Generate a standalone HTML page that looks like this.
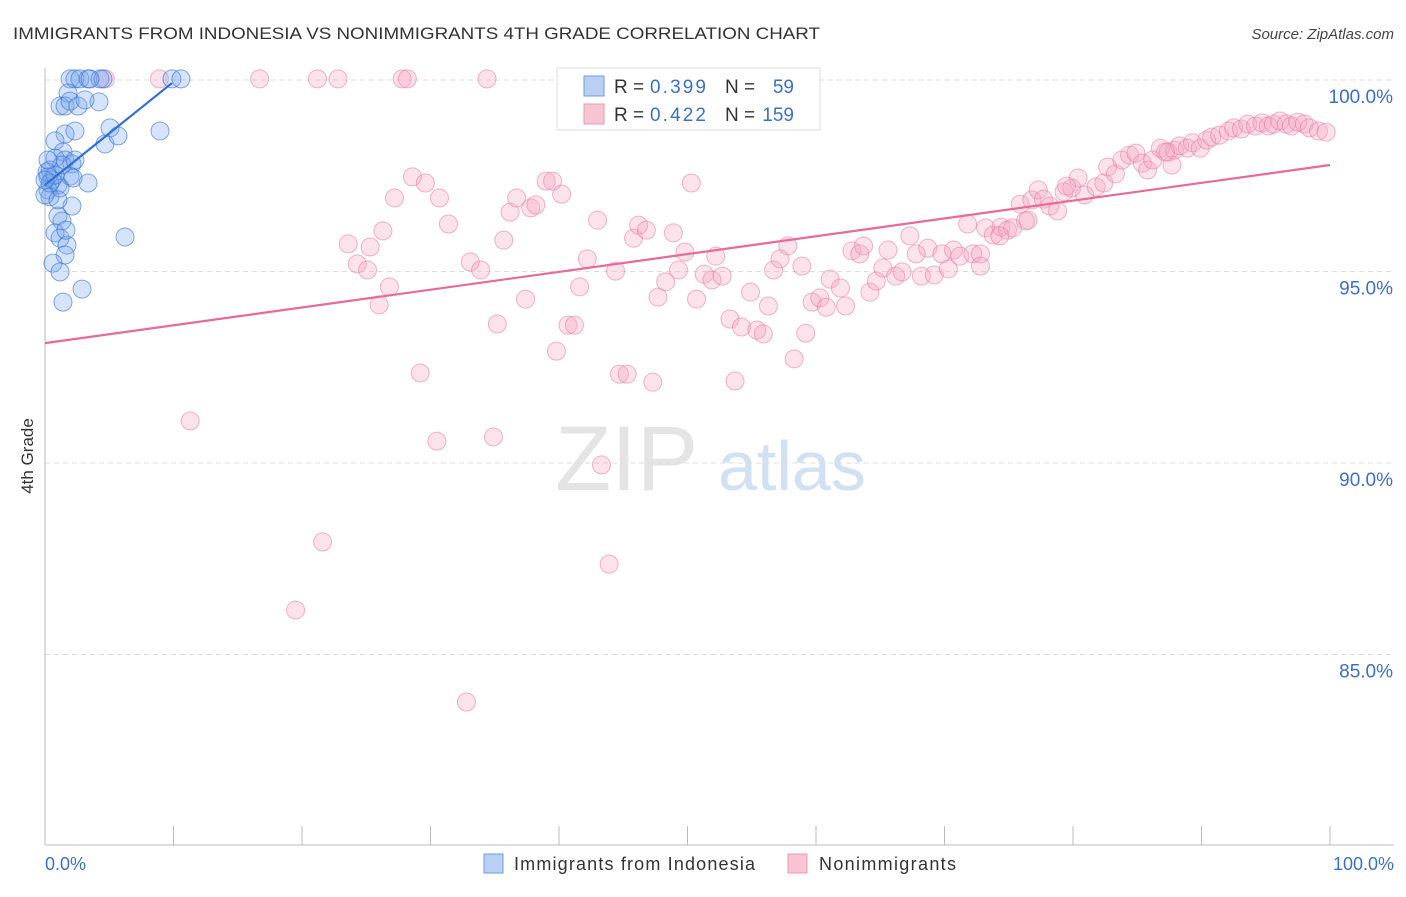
<!DOCTYPE html>
<html><head><meta charset="utf-8"><style>
body{margin:0;background:#fff;font-family:"Liberation Sans",sans-serif}
svg text{font-family:"Liberation Sans",sans-serif}
</style></head><body>
<svg id="chart" width="1406" height="892" xmlns="http://www.w3.org/2000/svg">
<text x="13" y="39" font-size="17" fill="#333" textLength="807" lengthAdjust="spacingAndGlyphs">IMMIGRANTS FROM INDONESIA VS NONIMMIGRANTS 4TH GRADE CORRELATION CHART</text>
<text x="1394" y="39" font-size="15" fill="#444" text-anchor="end" font-style="italic">Source: ZipAtlas.com</text>
<text x="555" y="490" font-size="92" fill="#e4e4e4" font-family="Liberation Serif">ZIP</text>
<text x="718" y="490" font-size="70" fill="#d2e0f4">atlas</text>
<g id="grid"></g>
<line x1="45" y1="68" x2="45" y2="845" stroke="#bbb"/>
<line x1="45" y1="845" x2="1394" y2="845" stroke="#bbb"/>
<g id="xticks"></g>
<text transform="translate(33,456) rotate(-90)" font-size="17" fill="#333" text-anchor="middle">4th Grade</text>
<text x="45" y="870" font-size="18" fill="#3a6fd0">0.0%</text>
<text x="1394" y="870" font-size="18" fill="#3a6fd0" text-anchor="end">100.0%</text>
<g id="pink"></g><g id="blue"></g><g id="trends"></g>
<g>
<rect x="557" y="68" width="263" height="62" fill="#fff" stroke="#ddd"/>
<rect x="584" y="76" width="20" height="20" fill="#b8d0f4" stroke="#6d9be0"/>
<rect x="584" y="104" width="20" height="20" fill="#f8c4d4" stroke="#ec98b4"/>
<text x="614" y="93" font-size="19" fill="#333">R =</text>
<text x="650" y="93" font-size="19" fill="#3a6fd0" textLength="56">0.399</text>
<text x="725" y="93" font-size="19" fill="#333">N =</text>
<text x="794" y="93" font-size="19" fill="#3a6fd0" text-anchor="end">59</text>
<text x="614" y="121" font-size="19" fill="#333">R =</text>
<text x="650" y="121" font-size="19" fill="#3a6fd0" textLength="56">0.422</text>
<text x="725" y="121" font-size="19" fill="#333">N =</text>
<text x="794" y="121" font-size="19" fill="#3a6fd0" text-anchor="end">159</text>
</g>
<g>
<rect x="484" y="854" width="19" height="19" fill="#b8d0f4" stroke="#6d9be0"/>
<text x="514" y="870" font-size="18" fill="#333" textLength="241">Immigrants from Indonesia</text></g>
<g>
<rect x="788" y="854" width="19" height="19" fill="#f8c4d4" stroke="#ec98b4"/>
<text x="819" y="870" font-size="18" fill="#333" textLength="137">Nonimmigrants</text></g>
</svg>
<script>
const yTicks=[100,95,90,85];
const yTickLabels=["100.0%","95.0%","90.0%","85.0%"];
const xTicks=[0,10,20,30,40,50,60,70,80,90,100];
const blueX=[1.95,2.33,2.72,3.35,4.28,4.51,9.88,10.58,1.79,1.17,1.56,2.57,1.95,4.2,8.95,1.56,2.33,0.78,5.06,4.67,5.68,1.4,0.78,1.56,2.1,0.39,0.23,0.54,1.01,0.23,1.95,2.18,3.35,0.39,1.17,2.1,1.01,1.32,0.78,1.17,1.71,1.56,6.23,0.62,1.17,2.88,1.4,0.16,0.39,0.78,1.32,0,2.33,0.23,1.63,1.01,3.11,3.5,0];
const blueY=[100.03,100.03,100.03,100.03,100.03,100.03,100.03,100.03,99.66,99.32,99.32,99.32,99.45,99.43,98.67,98.59,98.67,98.41,98.75,98.33,98.54,98.12,97.96,97.91,97.81,97.65,97.47,97.39,97.26,97.13,97.49,97.44,97.31,96.95,97.18,96.71,96.45,96.32,96.01,95.87,95.69,95.43,95.9,95.22,94.99,94.54,94.2,97.6,97.31,97.52,97.78,97.0,97.91,97.91,96.08,96.87,99.48,100.03,97.39];
const pinkX=[4.7,8.9,16.7,21.2,22.8,27.8,28.2,34.4,11.3,19.5,21.6,32.8,30.5,34.9,29.2,43.3,43.9,23.6,24.3,25.1,25.3,26.0,26.3,26.8,27.2,28.6,29.6,30.7,31.4,33.1,33.9,35.2,35.7,36.2,36.7,37.4,37.8,38.2,39.0,39.5,39.8,40.2,40.7,41.2,41.6,42.2,43.0,44.4,44.7,45.3,45.8,46.2,46.8,47.3,47.7,48.3,48.9,49.3,49.8,50.3,50.7,51.3,51.9,52.2,52.7,53.3,53.7,54.2,54.9,55.4,55.9,56.3,56.7,57.2,57.8,58.3,58.9,59.2,59.7,60.3,60.8,61.1,61.9,62.3,62.8,63.4,63.7,64.2,64.7,65.2,65.6,66.2,66.7,67.3,67.8,68.2,68.7,69.2,69.8,70.3,70.7,71.2,71.8,72.2,72.8,73.2,73.8,74.4,74.9,75.3,75.9,76.3,76.8,77.3,77.7,78.2,78.8,79.3,79.9,80.4,80.9,81.8,82.4,82.7,83.3,83.8,84.4,84.9,85.4,85.8,86.2,86.8,87.4,87.9,88.3,88.9,89.3,89.9,90.4,90.8,91.4,92.1,92.5,93.1,93.6,94.2,94.7,95.2,95.6,96.1,96.6,97.0,97.5,98.0,98.4,99.1,99.7,87.7,74.3,72.8,87.2,79.5,76.5];
const pinkY=[100.03,100.03,100.03,100.03,100.03,100.03,100.03,100.03,91.1,86.16,87.94,83.76,90.57,90.68,92.35,89.95,87.36,95.72,95.2,95.04,95.64,94.13,96.06,94.6,96.92,97.47,97.31,96.92,96.24,95.25,95.04,93.63,95.82,96.55,96.92,94.28,96.66,96.74,97.36,97.36,92.92,97.02,93.6,93.6,94.6,95.33,96.34,95.01,92.32,92.32,95.87,96.21,96.08,92.11,94.33,94.73,96.01,95.04,95.51,97.31,94.28,94.93,94.78,95.4,94.88,93.76,92.14,93.55,94.46,93.47,93.37,94.1,95.04,95.33,95.67,92.72,95.14,93.39,94.2,94.31,94.07,94.8,94.57,94.1,95.54,95.46,95.67,94.46,94.75,95.09,95.56,94.88,94.99,95.93,95.46,94.88,95.61,94.91,95.46,95.07,95.56,95.4,96.24,95.46,95.46,96.14,95.95,96.16,96.08,96.14,96.76,96.32,96.87,97.13,96.89,96.71,96.58,97.08,97.18,97.44,97.0,97.21,97.31,97.73,97.55,97.91,98.04,98.09,97.83,97.65,97.91,98.22,98.12,98.17,98.28,98.22,98.36,98.22,98.43,98.51,98.56,98.67,98.75,98.72,98.85,98.8,98.88,98.8,98.85,98.93,98.85,98.8,98.9,98.85,98.75,98.67,98.64,97.78,95.93,95.14,98.12,97.23,96.34];
const blueTrend=[[0,97.26],[9.88,99.92]];
const pinkTrend=[[0,93.13],[100,97.78]];
const NS="http://www.w3.org/2000/svg";
const sx=v=>45+v*12.85, sy=v=>80+(100-v)*38.3;
function mk(t,a,p){const e=document.createElementNS(NS,t);for(const k in a)e.setAttribute(k,a[k]);p.appendChild(e);return e;}
const grid=document.getElementById('grid');
yTicks.forEach((t,i)=>{
 const l=mk('line',{x1:45,x2:1394,y1:sy(t),y2:sy(t),stroke:'#ddd','stroke-dasharray':'5,4'},grid);
 
 
 const tx=mk('text',{x:1393,y:sy(t)+23,'font-size':19,fill:'#3a6fd0','text-anchor':'end'},grid);
 tx.textContent=yTickLabels[i];
 
 
});
const xt=document.getElementById('xticks');
xTicks.forEach(t=>{const l=mk('line',{x1:sx(t),x2:sx(t),y1:826,y2:845,stroke:'#bbb'},xt);
 
 });
function pts(X,Y,g,fill,stroke,name){X.forEach((x,i)=>{const c=mk('circle',{cx:sx(x),cy:sy(Y[i]),r:9,fill:fill,stroke:stroke,'stroke-width':1},g);
 
 });}
pts(pinkX,pinkY,document.getElementById('pink'),'rgba(244,165,192,0.32)','rgba(232,120,160,0.55)','nonimmigrant-point');
pts(blueX,blueY,document.getElementById('blue'),'rgba(120,165,235,0.3)','rgba(50,110,210,0.6)','indonesia-point');
const tr=document.getElementById('trends');
const pl=mk('line',{x1:sx(pinkTrend[0][0]),y1:sy(pinkTrend[0][1]),x2:sx(pinkTrend[1][0]),y2:sy(pinkTrend[1][1]),stroke:'#e8699a','stroke-width':2.2},tr);


const bl=mk('line',{x1:sx(blueTrend[0][0]),y1:sy(blueTrend[0][1]),x2:sx(blueTrend[1][0]),y2:sy(blueTrend[1][1]),stroke:'#2f6fd6','stroke-width':2.2},tr);


</script>
</body></html>
